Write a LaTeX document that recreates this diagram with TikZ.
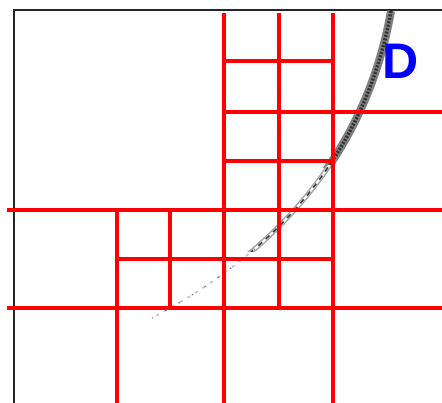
\documentclass[tikz,border=0pt]{standalone}
\usepackage{fontspec}
\setmainfont{Liberation Sans}
\begin{document}
\begin{tikzpicture}[x=1pt,y=-1pt,
  redline/.style={draw=red,line width=3.6pt},
  frame/.style={draw=black!85,line width=2pt},
  lbl/.style={text=blue,font=\bfseries\fontsize{50}{50}\selectfont,inner sep=0pt}]
\useasboundingbox (0,0) rectangle (442,403);
\fill[white] (0,0) rectangle (442,403);
% frame
\draw[frame] (14,403) -- (14,10) -- (442,10);
% curve
\def\crv{(391,11) .. controls (370,130) and (300,240) .. (152,318)}
\begin{scope}
\clip (0,0) rectangle (442,168);
\draw[black!50,line width=8pt] \crv;
\draw[black!80,line width=3.5pt,dash pattern=on 2pt off 1.5pt] \crv;
\end{scope}
\begin{scope}
\clip (0,166) rectangle (442,252);
\draw[black!35,line width=5pt] \crv;
\draw[white,line width=2pt] \crv;
\draw[black!75,line width=1.6pt,dash pattern=on 5pt off 5pt] \crv;
\end{scope}
\begin{scope}
\clip (0,250) rectangle (442,330);
\draw[black!25,line width=1.5pt,dash pattern=on 3pt off 6pt] \crv;
\draw[black!50,line width=1.2pt,dash pattern=on 1.5pt off 14pt] \crv;
\end{scope}
% red grid
\draw[redline] (224,13) -- (224,403);
\draw[redline] (279,13) -- (279,308);
\draw[redline] (333,13) -- (333,403);
\draw[redline] (117,210) -- (117,403);
\draw[redline] (170,210) -- (170,308);
\draw[redline] (224,61) -- (333,61);
\draw[redline] (224,112) -- (442,112);
\draw[redline] (224,161) -- (333,161);
\draw[redline] (7,210) -- (442,210);
\draw[redline] (117,259) -- (333,259);
\draw[redline] (7,308) -- (442,308);
% label
\node[lbl] (d) at (401,61) {D};
\end{tikzpicture}
\end{document}
